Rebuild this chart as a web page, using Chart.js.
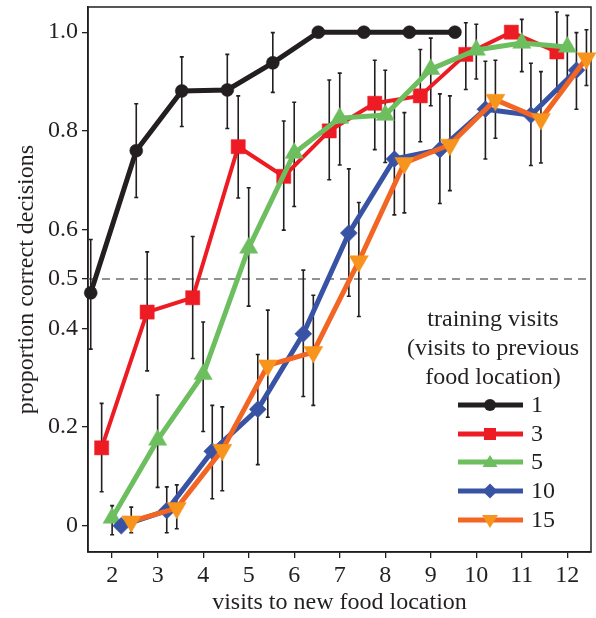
<!DOCTYPE html>
<html><head><meta charset="utf-8">
<script src="https://cdn.jsdelivr.net/npm/chart.js@4.4.0/dist/chart.umd.min.js"></script>
<style>html,body{margin:0;padding:0;background:#fff}#wrap{width:596px;height:618px;position:relative}</style>
</head><body><div id="wrap"><canvas id="c"></canvas></div>
<script>
// ---- data ----
const visits = [2,3,4,5,6,7,8,9,10,11,12];
const seriesNames = ['1','3','5','10','15'];
const xTickValues = [2,3,4,5,6,7,8,9,10,11,12];
const yTickValues = [0,0.2,0.4,0.5,0.6,0.8,1.0];
const chanceLevel = 0.5;

const mean1 = [0.472,0.760,0.881,0.883,0.938,1.0,1.0,1.0,1.0];
const lo1   = [0.358,0.665,0.809,0.805,0.878,1.0,1.0,1.0,1.0];
const hi1   = [0.580,0.855,0.950,0.955,0.999,1.0,1.0,1.0,1.0];

const mean3 = [0.158,0.433,0.462,0.768,0.708,0.800,0.856,0.871,0.955,1.0,0.960];
const lo3   = [0.069,0.314,0.339,0.664,0.599,0.701,0.762,0.778,0.884,1.0,0.879];
const hi3   = [0.248,0.555,0.586,0.871,0.820,0.903,0.943,0.965,1.019,1.0,1.041];

const mean5 = [0.016,0.174,0.307,0.563,0.755,0.826,0.832,0.925,0.964,0.978,0.970];
const lo5   = [-0.018,0.078,0.191,0.445,0.647,0.731,0.736,0.851,0.905,0.920,0.905];
const hi5   = [0.041,0.265,0.413,0.685,0.858,0.917,0.923,0.988,1.016,1.026,1.034];

const mean10 = [0.0,0.031,0.151,0.236,0.389,0.593,0.743,0.762,0.844,0.832,0.923];
const lo10   = [0.0,-0.014,0.055,0.124,0.262,0.465,0.630,0.653,0.743,0.730,0.844];
const hi10   = [0.0,0.079,0.244,0.347,0.518,0.723,0.863,0.875,0.941,0.937,0.999];

const mean15 = [0.009,0.036,0.154,0.325,0.352,0.536,0.735,0.772,0.863,0.824,0.947];
const lo15   = [-0.014,-0.006,0.071,0.220,0.244,0.424,0.634,0.679,0.785,0.735,0.892];
const hi15   = [0.038,0.083,0.241,0.437,0.467,0.655,0.837,0.871,0.943,0.920,1.005];

// ---- styling ----
const INK = '#231f20';
const FONT = "'Liberation Serif','Times New Roman',serif";
const styles = [
  {line:'#231f20', fill:'#231f20', shape:'circle',   r:6.5, lw:5,   off:-0.47, rot:0},
  {line:'#ed1c24', fill:'#ed1c24', shape:'rect',     r:10,  lw:4,   off:-0.23, rot:0},
  {line:'#6dbe5f', fill:'#6dbe5f', shape:'triangle', r:10.5,lw:5,   off:0,     rot:0},
  {line:'#3953a4', fill:'#3953a4', shape:'rectRot',  r:8.5, lw:5,   off:0.2,   rot:0},
  {line:'#f26522', fill:'#f7941d', shape:'triangle', r:11,  lw:5,   off:0.42,  rot:180}
];
const means = [mean1,mean3,mean5,mean10,mean15];
const los = [lo1,lo3,lo5,lo10,lo15];
const his = [hi1,hi3,hi5,hi10,hi15];

const datasets = means.map((m,i)=>({
  label: seriesNames[i],
  data: m.map((v,j)=>({x: visits[j]+styles[i].off, y: v, lo: los[i][j], hi: his[i][j]})),
  borderColor: styles[i].line,
  borderWidth: styles[i].lw,
  backgroundColor: styles[i].fill,
  pointStyle: styles[i].shape,
  pointRadius: styles[i].r,
  pointRotation: styles[i].rot,
  pointBackgroundColor: styles[i].fill,
  pointBorderColor: styles[i].fill,
  pointBorderWidth: 0.5,
  tension: 0,
  order: 5 - i,
  clip: false
}));

const decorPlugin = {
  id: 'decor',
  beforeDatasetsDraw(chart){
    const {ctx, chartArea:a, scales:{x,y}} = chart;
    ctx.save();
    ctx.strokeStyle = INK; ctx.lineWidth = 1.5;
    ctx.strokeRect(a.left, a.top, a.right-a.left, a.bottom-a.top);
    const yc = y.getPixelForValue(chanceLevel);
    ctx.strokeStyle = '#6d6e71'; ctx.lineWidth = 1.5; ctx.setLineDash([8,6]);
    ctx.beginPath(); ctx.moveTo(a.left, yc); ctx.lineTo(a.right, yc); ctx.stroke();
    ctx.setLineDash([]);
    ctx.strokeStyle = INK; ctx.lineWidth = 1.6;
    chart.data.datasets.forEach(ds=>{
      ds.data.forEach(p=>{
        if (p.hi - p.lo < 0.002) return;
        const px = x.getPixelForValue(p.x);
        const y1 = y.getPixelForValue(p.hi), y2 = y.getPixelForValue(p.lo);
        ctx.beginPath();
        ctx.moveTo(px, y1); ctx.lineTo(px, y2);
        ctx.moveTo(px-2, y1); ctx.lineTo(px+2, y1);
        ctx.moveTo(px-2, y2); ctx.lineTo(px+2, y2);
        ctx.stroke();
      });
    });
    ctx.restore();
  },
  afterDraw(chart){
    const ctx = chart.ctx;
    ctx.save();
    ctx.fillStyle = INK;
    ctx.font = '24px ' + FONT;
    ctx.textAlign = 'center'; ctx.textBaseline = 'middle';
    const title = ['training visits','(visits to previous','food location)'];
    title.forEach((t,k)=>ctx.fillText(t, 493, 320 + k*29));
    const rowY = [405, 434, 462, 491, 520];
    chart.data.datasets.forEach((ds,i)=>{
      const s = styles[i], yy = rowY[i];
      ctx.strokeStyle = s.line; ctx.lineWidth = 5;
      ctx.beginPath(); ctx.moveTo(458, yy); ctx.lineTo(523, yy); ctx.stroke();
      ctx.fillStyle = s.fill;
      const cx = 490;
      ctx.beginPath();
      if (s.shape==='circle'){ ctx.arc(cx, yy, 6, 0, Math.PI*2); }
      else if (s.shape==='rect'){ ctx.rect(cx-6, yy-6, 12, 12); }
      else if (s.shape==='rectRot'){ ctx.moveTo(cx, yy-7.5); ctx.lineTo(cx+7.5, yy); ctx.lineTo(cx, yy+7.5); ctx.lineTo(cx-7.5, yy); ctx.closePath(); }
      else if (s.rot===0){ ctx.moveTo(cx, yy-7); ctx.lineTo(cx+7.5, yy+5); ctx.lineTo(cx-7.5, yy+5); ctx.closePath(); }
      else { ctx.moveTo(cx, yy+8); ctx.lineTo(cx+8, yy-5); ctx.lineTo(cx-8, yy-5); ctx.closePath(); }
      ctx.fill();
      ctx.fillStyle = INK; ctx.textAlign = 'left';
      ctx.fillText(ds.label, 531, yy + 1);
    });
    ctx.restore();
  }
};

function noPad(s){ s.paddingTop = 0; s.paddingBottom = 0; s.paddingLeft = 0; s.paddingRight = 0; }

new Chart(document.getElementById('c'), {
  type: 'line',
  data: { datasets },
  plugins: [decorPlugin],
  options: {
    responsive: true, maintainAspectRatio: false, animation: false, events: [],
    layout: { autoPadding: false, padding: { top: 7, right: 5, left: 0, bottom: 0 } },
    plugins: { legend: { display: false }, tooltip: { enabled: false } },
    scales: {
      x: {
        type: 'linear', min: 1.47, max: 12.52,
        afterFit(s){ s.height = 66; noPad(s); },
        afterBuildTicks(s){ s.ticks = xTickValues.map(v=>({value:v})); },
        grid: { drawOnChartArea: false, drawTicks: true, tickLength: 6, color: INK, lineWidth: 1.3 },
        border: { display: true, color: INK, width: 1.5 },
        ticks: { color: INK, font: { family: FONT, size: 24 }, padding: 3, autoSkip: false, maxRotation: 0,
                 callback: v => String(v) },
        title: { display: true, text: 'visits to new food location', color: INK,
                 font: { family: FONT, size: 24 }, padding: { top: 0, bottom: 1 } }
      },
      y: {
        type: 'linear', min: -0.053, max: 1.051,
        afterFit(s){ s.width = 88; noPad(s); },
        afterBuildTicks(s){ s.ticks = yTickValues.map(v=>({value:v})); },
        grid: { drawOnChartArea: false, drawTicks: true, tickLength: 6, color: INK, lineWidth: 1.3 },
        border: { display: true, color: INK, width: 1.5 },
        ticks: { color: INK, font: { family: FONT, size: 24 }, padding: 4, autoSkip: false,
                 callback: v => v === 0 ? '0' : v.toFixed(1) },
        title: { display: true, text: 'proportion correct decisions', color: INK,
                 font: { family: FONT, size: 24 }, padding: { top: 12, bottom: 0 } }
      }
    }
  }
});
</script></body></html>
